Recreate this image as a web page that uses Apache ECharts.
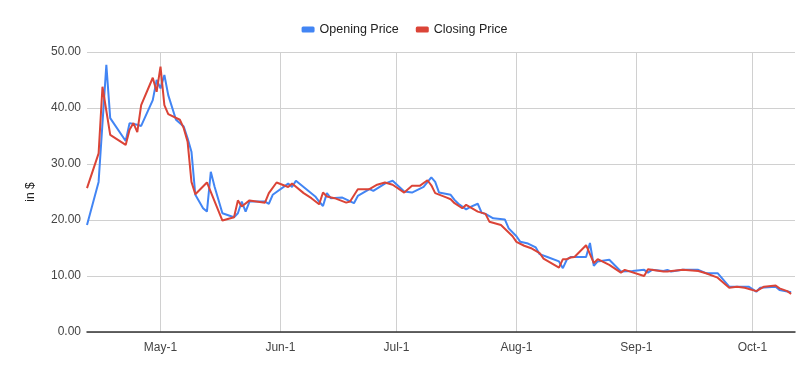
<!DOCTYPE html>
<html>
<head>
<meta charset="utf-8">
<script src="https://cdn.jsdelivr.net/npm/echarts@6/dist/echarts.min.js"></script>
<style>
html,body{margin:0;padding:0;background:#fff;}
#chart{width:809px;height:371px;}
</style>
</head>
<body>
<div id="chart"></div>
<script>
const openDates = ['2020-04-12','2020-04-15','2020-04-17','2020-04-18','2020-04-22','2020-04-23','2020-04-25','2020-04-26','2020-04-29','2020-04-30','2020-05-01','2020-05-02','2020-05-03','2020-05-05','2020-05-07','2020-05-08','2020-05-09','2020-05-10','2020-05-12','2020-05-13','2020-05-14','2020-05-15','2020-05-17','2020-05-20','2020-05-21','2020-05-22','2020-05-23','2020-05-24','2020-05-28','2020-05-29','2020-05-30','2020-06-03','2020-06-04','2020-06-05','2020-06-10','2020-06-11','2020-06-12','2020-06-13','2020-06-14','2020-06-17','2020-06-20','2020-06-21','2020-06-24','2020-06-25','2020-06-28','2020-06-30','2020-07-03','2020-07-05','2020-07-08','2020-07-10','2020-07-11','2020-07-12','2020-07-15','2020-07-16','2020-07-17','2020-07-19','2020-07-20','2020-07-22','2020-07-23','2020-07-24','2020-07-26','2020-07-29','2020-07-30','2020-08-01','2020-08-02','2020-08-04','2020-08-06','2020-08-07','2020-08-09','2020-08-12','2020-08-13','2020-08-14','2020-08-15','2020-08-19','2020-08-20','2020-08-21','2020-08-22','2020-08-25','2020-08-28','2020-08-31','2020-09-03','2020-09-04','2020-09-05','2020-09-08','2020-09-09','2020-09-10','2020-09-13','2020-09-17','2020-09-19','2020-09-22','2020-09-25','2020-09-28','2020-09-30','2020-10-02','2020-10-03','2020-10-07','2020-10-08','2020-10-11'];
const openPrices = [19.1,26.8,47.7,38.2,34.1,37.3,37.0,36.8,41.4,45.0,43.5,45.9,42.3,37.9,36.7,34.6,32.2,24.5,22.1,21.5,28.6,25.9,21.2,20.5,21.2,23.3,21.5,23.3,23.3,22.9,24.5,26.5,25.9,27.0,24.2,23.3,22.5,24.8,23.9,24.0,23.0,24.3,25.5,25.2,26.5,27.0,25.1,24.9,25.9,27.6,26.8,24.9,24.5,23.6,22.9,21.9,22.3,22.9,21.3,21.1,20.3,20.1,18.5,17.1,16.1,15.8,15.1,13.9,13.4,12.6,11.4,12.9,13.4,13.4,15.9,11.8,12.6,12.9,10.8,10.9,11.1,10.6,11.1,10.9,11.1,10.8,11.1,11.1,10.5,10.5,8.1,8.1,8.1,7.2,7.9,8.1,7.5,7.1];
const closeDates = ['2020-04-12','2020-04-15','2020-04-16','2020-04-18','2020-04-22','2020-04-23','2020-04-24','2020-04-25','2020-04-26','2020-04-29','2020-04-30','2020-05-01','2020-05-02','2020-05-03','2020-05-06','2020-05-07','2020-05-08','2020-05-09','2020-05-10','2020-05-13','2020-05-17','2020-05-20','2020-05-21','2020-05-22','2020-05-24','2020-05-28','2020-05-29','2020-05-31','2020-06-03','2020-06-04','2020-06-07','2020-06-09','2020-06-11','2020-06-12','2020-06-13','2020-06-15','2020-06-18','2020-06-19','2020-06-21','2020-06-24','2020-06-26','2020-06-28','2020-06-30','2020-07-03','2020-07-05','2020-07-07','2020-07-09','2020-07-10','2020-07-11','2020-07-14','2020-07-15','2020-07-16','2020-07-18','2020-07-19','2020-07-20','2020-07-22','2020-07-24','2020-07-25','2020-07-28','2020-07-31','2020-08-01','2020-08-03','2020-08-05','2020-08-07','2020-08-08','2020-08-12','2020-08-13','2020-08-14','2020-08-15','2020-08-16','2020-08-19','2020-08-21','2020-08-22','2020-08-25','2020-08-28','2020-08-29','2020-09-03','2020-09-04','2020-09-08','2020-09-09','2020-09-13','2020-09-17','2020-09-19','2020-09-22','2020-09-25','2020-09-27','2020-09-29','2020-10-02','2020-10-04','2020-10-07','2020-10-08','2020-10-10','2020-10-11'];
const closePrices = [25.7,31.9,43.8,35.2,33.4,36.1,37.3,35.7,40.5,45.4,42.9,47.4,40.5,38.9,37.9,36.4,34.0,26.8,24.6,26.7,19.9,20.5,23.5,22.4,23.5,23.1,24.8,26.7,25.9,26.5,24.8,23.9,22.8,24.9,24.2,23.9,23.1,23.3,25.5,25.5,26.3,26.7,26.3,24.9,26.1,26.1,27.1,26.2,24.8,24.0,23.7,23.0,22.1,22.7,22.3,21.5,21.1,19.7,19.1,17.1,16.1,15.4,14.9,14.1,13.1,11.5,13.0,13.0,13.3,13.4,15.5,12.3,13.0,12.0,10.6,11.1,10.0,11.2,10.8,10.8,11.1,10.9,10.5,9.7,7.9,8.1,7.9,7.3,8.1,8.3,7.8,7.3,6.8];
const seriesNames = ['Opening Price', 'Closing Price'];
const monthNames = ['Jan','Feb','Mar','Apr','May','Jun','Jul','Aug','Sep','Oct','Nov','Dec'];

const chart = echarts.init(document.getElementById('chart'));
chart.setOption({
  animation: false,
  textStyle: { fontFamily: 'Liberation Sans, Arial, sans-serif' },
  color: ['#4285f4', '#db4437'],
  legend: {
    top: 18, left: 'center',
    icon: 'roundRect', itemWidth: 13, itemHeight: 6, itemGap: 17,
    textStyle: { fontSize: 12.5, color: '#222' },
    data: seriesNames
  },
  grid: { left: 87, right: 14, top: 52, bottom: 39, containLabel: false },
  xAxis: {
    type: 'time',
    min: '2020-04-12', max: '2020-10-12',
    splitNumber: 6,
    axisLine: { show: true, lineStyle: { color: '#333', width: 1.5 } },
    axisTick: { show: false },
    splitLine: { show: true, showMinLine: false, showMaxLine: false, lineStyle: { color: '#d0d0d0' } },
    axisLabel: {
      color: '#444', fontSize: 12, margin: 10,
      showMinLabel: false, showMaxLabel: false,
      formatter: function (v) { const d = new Date(v); return monthNames[d.getMonth()] + '-' + d.getDate(); }
    }
  },
  yAxis: {
    type: 'value', min: 0, max: 50, interval: 10,
    name: 'in $', nameLocation: 'middle', nameGap: 50,
    nameTextStyle: { color: '#222', fontSize: 12 },
    axisLine: { show: false }, axisTick: { show: false },
    splitLine: { lineStyle: { color: '#d0d0d0' } },
    axisLabel: { color: '#444', fontSize: 12, margin: 6, formatter: v => v.toFixed(2) }
  },
  series: [
    { name: seriesNames[0], type: 'line', showSymbol: false, symbol: 'none', lineStyle: { width: 2 },
      data: openDates.map((d, i) => [d, openPrices[i]]) },
    { name: seriesNames[1], type: 'line', showSymbol: false, symbol: 'none', lineStyle: { width: 2 },
      data: closeDates.map((d, i) => [d, closePrices[i]]) }
  ]
});
</script>
</body>
</html>
